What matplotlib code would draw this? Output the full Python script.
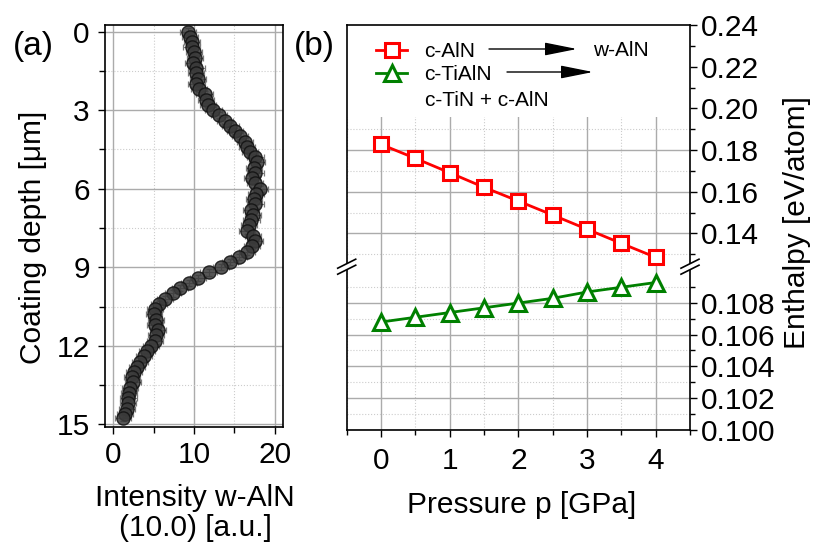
import matplotlib
matplotlib.use("Agg")
import matplotlib.pyplot as plt
from matplotlib.lines import Line2D
from matplotlib.patches import Polygon, Rectangle, FancyArrowPatch

plt.rcParams['font.family'] = ['Liberation Sans', 'DejaVu Sans']

# panel (a): depth profile
depth = [0.0, 0.2, 0.4, 0.6, 0.8, 1.0, 1.2, 1.4, 1.6, 1.8, 2.0, 2.2, 2.4, 2.6, 2.8,
         3.0, 3.2, 3.4, 3.6, 3.8, 4.0, 4.2, 4.4, 4.6, 4.8, 5.0, 5.2, 5.4, 5.6, 5.8,
         6.0, 6.2, 6.4, 6.6, 6.8, 7.0, 7.2, 7.4, 7.6, 7.8, 8.0, 8.2, 8.4, 8.6, 8.8,
         9.0, 9.2, 9.4, 9.6, 9.8, 10.0, 10.2, 10.4, 10.6, 10.8, 11.0, 11.2, 11.4, 11.6, 11.8,
         12.0, 12.2, 12.4, 12.6, 12.8, 13.0, 13.2, 13.4, 13.6, 13.8, 14.0, 14.2, 14.4, 14.6, 14.75]
intensity = [9.3, 9.5, 9.8, 9.7, 10.0, 10.1, 9.9, 10.3, 10.2, 10.5, 10.3, 10.6, 11.3, 11.5, 11.7,
             12.4, 13.1, 13.8, 14.5, 15.1, 15.7, 16.3, 16.6, 16.9, 17.6, 17.8, 17.4, 17.6, 17.2, 17.5,
             18.1, 17.7, 17.4, 17.6, 17.0, 17.3, 17.1, 16.8, 16.5, 17.3, 17.5, 17.2, 16.6, 15.6, 14.4,
             13.3, 11.8, 10.5, 9.4, 8.3, 7.4, 6.4, 5.7, 5.2, 5.1, 5.3, 5.2, 5.6, 5.3, 5.2,
             4.7, 4.2, 3.8, 3.3, 3.0, 2.6, 2.3, 2.5, 2.1, 2.0, 1.9, 1.8, 1.7, 1.5, 1.2]
int_err = 1.0
depth_err = 0.12

# panel (b): enthalpy vs pressure
pressure = [0, 0.5, 1, 1.5, 2, 2.5, 3, 3.5, 4]
h_alaln = [0.1827, 0.1760, 0.1691, 0.1621, 0.1555, 0.1488, 0.1420, 0.1352, 0.1285]
h_tialn = [0.1068, 0.1071, 0.1074, 0.1077, 0.1080, 0.1083, 0.1087, 0.1090, 0.1093]

W, H = 815, 546
fig = plt.figure(figsize=(W / 100, H / 100), dpi=100)

def fx(px):
    return px / W

def fy(py):
    return 1 - py / H

GRID_MAJ = dict(color='#ababab', linestyle='-', linewidth=1.0)
GRID_MIN = dict(color='#cccccc', linestyle=':', linewidth=0.8)
FS = 21.5

# ---- (a)
axa = fig.add_axes([fx(105), fy(427), fx(283) - fx(105), fy(25) - fy(427)])
axa.errorbar(intensity, depth, xerr=int_err, yerr=depth_err, fmt='none',
             ecolor='#7a7a7a', elinewidth=0.9, capsize=2.5, capthick=0.9, zorder=2)
axa.plot(intensity, depth, 'o', ms=9.5, mfc='#3a3a3a', mec='#111111', mew=1.0,
         alpha=0.85, zorder=3)
axa.set_xlim(-1, 21)
axa.set_ylim(15.1, -0.25)
axa.set_xticks([0, 10, 20])
axa.set_xticks([5, 15], minor=True)
axa.set_yticks([0, 3, 6, 9, 12, 15])
axa.set_yticks([1.5, 4.5, 7.5, 10.5, 13.5], minor=True)
axa.set_axisbelow(True)
axa.grid(which='major', **GRID_MAJ)
axa.grid(which='minor', **GRID_MIN)
axa.tick_params(which='both', direction='out', labelsize=FS, width=1)
axa.tick_params(which='major', length=5)
axa.tick_params(which='minor', length=4)
axa.tick_params(axis='y', pad=6)
axa.tick_params(axis='x', pad=5)
for s in axa.spines.values():
    s.set_linewidth(1.2)

fig.text(fx(33), fy(237), 'Coating depth [μm]', rotation=90, ha='center', va='center', fontsize=FS)
fig.text(fx(195), fy(513), 'Intensity w-AlN\n(10.0) [a.u.]', ha='center', va='center',
         fontsize=FS, linespacing=1.05)
fig.text(fx(33), fy(46), '(a)', ha='center', va='center', fontsize=24)
fig.text(fx(314), fy(46), '(b)', ha='center', va='center', fontsize=24)

# ---- (b) broken axis
x0, x1 = 346.7, 690
ybrk = 266.7
axu = fig.add_axes([fx(x0), fy(ybrk), fx(x1) - fx(x0), fy(25) - fy(ybrk)])
axl = fig.add_axes([fx(x0), fy(430), fx(x1) - fx(x0), fy(ybrk) - fy(430)])

for ax in (axu, axl):
    ax.plot(pressure, h_alaln, '-s', color='#ff0000', lw=2, ms=10, mfc='white',
            mec='#ff0000', mew=2.2, zorder=4)
    ax.plot(pressure, h_tialn, '-^', color='#008000', lw=2, ms=12, mfc='white',
            mec='#008000', mew=2.2, zorder=4)
    ax.set_xlim(-0.5, 4.5)
    ax.set_xticks([0, 1, 2, 3, 4])
    ax.set_xticks([-0.5, 0.5, 1.5, 2.5, 3.5, 4.5], minor=True)
    ax.set_axisbelow(True)
    ax.grid(which='major', **GRID_MAJ)
    ax.grid(which='minor', **GRID_MIN)
    ax.yaxis.tick_right()
    ax.tick_params(which='both', direction='out', labelsize=FS, width=1,
                   left=False, labelleft=False)
    ax.tick_params(which='major', length=5)
    ax.tick_params(which='minor', length=3.5)
    ax.tick_params(axis='y', pad=3)
    for s in ax.spines.values():
        s.set_linewidth(1.2)

axu.set_ylim(0.124, 0.24)
axu.set_yticks([0.14, 0.16, 0.18, 0.20, 0.22, 0.24])
axu.set_yticks([0.13, 0.15, 0.17, 0.19, 0.21, 0.23], minor=True)
axu.set_yticklabels(['0.14', '0.16', '0.18', '0.20', '0.22', '0.24'])
axu.spines['bottom'].set_visible(False)
axu.tick_params(axis='x', which='both', bottom=False, labelbottom=False)

axl.set_ylim(0.09997, 0.1103)
axl.set_yticks([0.100, 0.102, 0.104, 0.106, 0.108])
axl.set_yticks([0.101, 0.103, 0.105, 0.107, 0.109], minor=True)
axl.set_yticklabels(['0.100', '0.102', '0.104', '0.106', '0.108'])
axl.spines['top'].set_visible(False)
axl.tick_params(axis='x', pad=7)

# white area behind the legend
frac = (fy(117) - fy(ybrk)) / (fy(25) - fy(ybrk))
axu.add_patch(Rectangle((0, frac), 1, 1 - frac, transform=axu.transAxes,
                        facecolor='white', edgecolor='none', zorder=1))

h1 = Line2D([], [], color='#ff0000', lw=2, marker='s', ms=10, mfc='white', mec='#ff0000', mew=2.2)
h2 = Line2D([], [], color='#008000', lw=2, marker='^', ms=12, mfc='white', mec='#008000', mew=2.2)
fig.legend([h1, h2], ['c-AlN', 'c-TiAlN'], loc='upper left',
           bbox_to_anchor=(fx(376), fy(42)), frameon=False, fontsize=15,
           handlelength=1.5, handletextpad=0.8, labelspacing=0.2,
           borderpad=0, borderaxespad=0)

arrow = dict(arrowstyle='-|>,head_length=1.0,head_width=0.2', color='black',
             lw=1.0, mutation_scale=20, shrinkA=0, shrinkB=0)
fig.add_artist(FancyArrowPatch((fx(489), fy(49)), (fx(577), fy(49)),
                               transform=fig.transFigure, **arrow))
fig.add_artist(FancyArrowPatch((fx(507), fy(72)), (fx(593), fy(72)),
                               transform=fig.transFigure, **arrow))
fig.text(fx(593), fy(50), 'w-AlN', ha='left', va='center', fontsize=15)
fig.text(fx(425), fy(100), 'c-TiN + c-AlN', ha='left', va='center', fontsize=15)

fig.text(fx(522), fy(505), 'Pressure p [GPa]', ha='center', va='center', fontsize=FS)
fig.text(fx(797), fy(223), 'Enthalpy [eV/atom]', rotation=90, ha='center', va='center', fontsize=FS)

# break marks on both spines
for xp in (x0, x1):
    poly = [(xp - 8, ybrk + 1), (xp + 8, ybrk - 7), (xp + 8, ybrk - 1), (xp - 8, ybrk + 7)]
    fig.add_artist(Polygon([(fx(a), fy(b)) for a, b in poly], closed=True,
                           transform=fig.transFigure, facecolor='white', edgecolor='none'))
    for dy in (-3, 3):
        fig.add_artist(Line2D([fx(xp - 9), fx(xp + 9)], [fy(ybrk + dy + 4.5), fy(ybrk + dy - 4.5)],
                              transform=fig.transFigure, color='black', lw=1.2))

fig.savefig('out.png', dpi=100)
